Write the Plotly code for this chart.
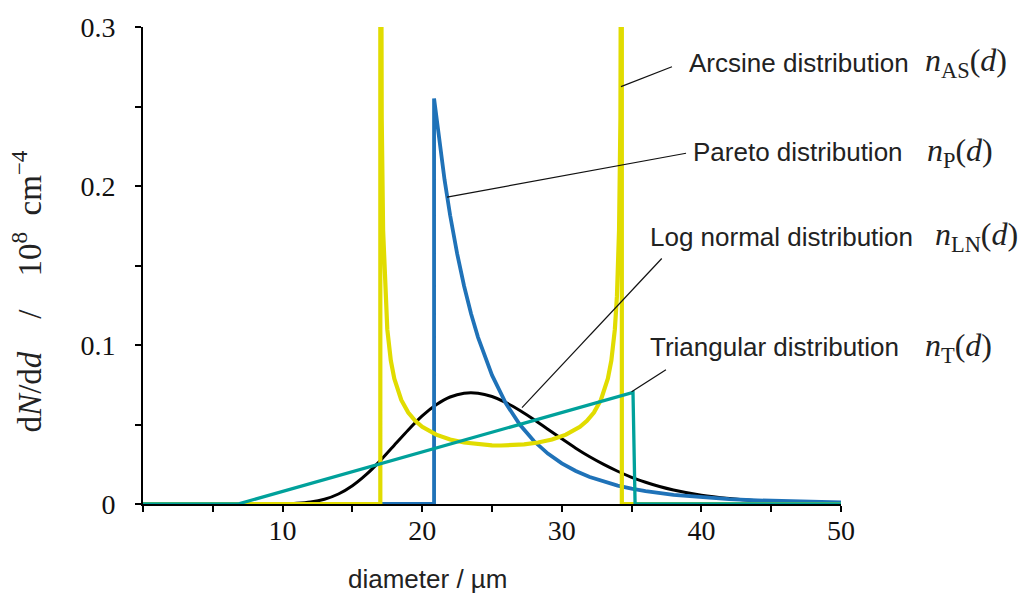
import plotly.graph_objects as go

# ---- data ----
tri_x = [0, 6.8, 35.1, 35.25, 50]
tri_y = [0, 0, 0.0702, 0, 0]

ln_x = [0, 8, 9, 10, 11, 12, 13, 14, 15, 16, 17, 18, 19, 20, 21, 22, 23, 24, 25,
        26, 27, 28, 29, 30, 31, 32, 33, 34, 35, 36, 37, 38, 40, 42, 44, 46, 48, 50]
ln_y = [0, 0, 0.00002, 0.0001, 0.0004, 0.0012, 0.0030, 0.0063, 0.0115, 0.0186, 0.0273,
        0.0370, 0.0466, 0.0554, 0.0624, 0.0673, 0.0697, 0.0697, 0.0676, 0.0638, 0.0588,
        0.0531, 0.0470, 0.0410, 0.0351, 0.0297, 0.0249, 0.0206, 0.0168, 0.0137, 0.0110,
        0.0088, 0.0055, 0.0034, 0.0020, 0.0012, 0.0007, 0.0004]

par_x = [0, 20.85, 20.85, 21.2, 21.6, 22, 22.5, 23, 23.5, 24, 25, 26, 27, 28, 29, 30,
         31, 32, 33, 34, 35, 36, 38, 40, 42, 44, 46, 48, 50]
par_y = [0, 0, 0.255, 0.2295, 0.2040, 0.1816, 0.1576, 0.1371, 0.1197, 0.1048, 0.0810,
         0.0632, 0.0498, 0.0396, 0.0317, 0.0256, 0.0208, 0.0170, 0.0140, 0.0116, 0.00965,
         0.00808, 0.00574, 0.00415, 0.00305, 0.00227, 0.00172, 0.00131, 0.00101]

as_x = [0, 17.0, 17.0, 17.02, 17.03, 17.06, 17.1, 17.2, 17.35, 17.5, 17.75, 18, 18.5, 19,
        19.5, 20, 21, 22, 23, 24, 25, 25.65, 26.3, 27.3, 28.3, 29.3, 30.3, 31.3, 31.8,
        32.3, 32.8, 33.3, 33.55, 33.8, 33.95, 34.1, 34.2, 34.24, 34.27, 34.28, 34.3, 34.3, 50]
as_y = [0, 0, 0.6, 0.541, 0.442, 0.313, 0.2427, 0.1721, 0.1307, 0.1098, 0.0903, 0.0789,
        0.0654, 0.0575, 0.0523, 0.0486, 0.0436, 0.0406, 0.0387, 0.0375, 0.0369, 0.0368,
        0.0369, 0.0375, 0.0387, 0.0406, 0.0436, 0.0486, 0.0523, 0.0575, 0.0654, 0.0789,
        0.0903, 0.1098, 0.1307, 0.1721, 0.2427, 0.313, 0.442, 0.541, 0.6, 0, 0]

x_ticks = [10, 20, 30, 40, 50]
x_tick_text = ["10", "20", "30", "40", "50"]
y_ticks = [0, 0.1, 0.2, 0.3]
y_tick_text = ["0", "0.1", "0.2", "0.3"]

labels = ["Arcsine distribution", "Pareto distribution",
          "Log normal distribution", "Triangular distribution"]
label_px = [0.7794, 0.7851, 0.7235, 0.7235]      # paper x (left edge)
label_py = [0.9250, 0.7375, 0.5605, 0.3290]      # paper y (middle)
math = ["<i>n</i><sub>AS</sub>(<i>d</i>)", "<i>n</i><sub>P</sub>(<i>d</i>)",
        "<i>n</i><sub>LN</sub>(<i>d</i>)", "<i>n</i><sub>T</sub>(<i>d</i>)"]
math_px = [1.1175, 1.1203, 1.1318, 1.1175]

# leader lines: (x0, y0) on curve -> (x1, y1) near label
lead_x0 = [34.24, 21.78, 27.15, 35.0]
lead_y0 = [0.2625, 0.193, 0.0606, 0.0706]
lead_x1 = [37.89, 38.9, 37.16, 37.46]
lead_y1 = [0.275, 0.2206, 0.1544, 0.0844]

BLACK = "#000000"
BLUE = "#1f72b8"
YELLOW = "#e1dc00"
TEAL = "#00a19b"
TXT = "#222222"

fig = go.Figure()
fig.add_trace(go.Scatter(x=ln_x, y=ln_y, mode="lines",
                         line=dict(color=BLACK, width=3, shape="spline", smoothing=0.6)))
fig.add_trace(go.Scatter(x=par_x, y=par_y, mode="lines", line=dict(color=BLUE, width=3.8)))
fig.add_trace(go.Scatter(x=as_x, y=as_y, mode="lines", line=dict(color=YELLOW, width=4.2)))
fig.add_trace(go.Scatter(x=tri_x, y=tri_y, mode="lines", line=dict(color=TEAL, width=3.3)))

for i in range(len(labels)):
    fig.add_annotation(x=label_px[i], y=label_py[i], xref="paper", yref="paper", text=labels[i],
                       showarrow=False, xanchor="left", yanchor="middle",
                       font=dict(family="Liberation Sans, Arial", size=26, color=TXT))
    fig.add_annotation(x=math_px[i], y=label_py[i], xref="paper", yref="paper", text=math[i],
                       showarrow=False, xanchor="left", yanchor="middle",
                       font=dict(family="Liberation Serif, Times New Roman", size=32, color=TXT))
    fig.add_shape(type="line", xref="x", yref="y", x0=lead_x0[i], y0=lead_y0[i],
                  x1=lead_x1[i], y1=lead_y1[i], line=dict(color="#111111", width=1.2))

fig.add_annotation(x=0.407, y=-0.158, xref="paper", yref="paper", text="diameter / µm",
                   showarrow=False, xanchor="center", yanchor="middle",
                   font=dict(family="Liberation Sans, Arial", size=26, color=TXT))
fig.add_annotation(x=-0.166, y=0.446, xref="paper", yref="paper",
                   text="d<i>N</i>/d<i>d</i>\u2003/\u200310<sup>8</sup>\u2002cm<sup>\u22124</sup>",
                   textangle=-90, showarrow=False, xanchor="center", yanchor="middle",
                   font=dict(family="Liberation Serif, Times New Roman", size=33, color=TXT))

fig.update_xaxes(range=[0, 50], tickvals=x_ticks, ticktext=x_tick_text, ticks="outside",
                 ticklen=6, tickwidth=2, tickcolor=BLACK, showline=True, linewidth=2,
                 linecolor=BLACK, showgrid=False, zeroline=False, ticklabelstandoff=-6,
                 minor=dict(dtick=5, tick0=0, ticks="outside", ticklen=6, tickwidth=2,
                            tickcolor=BLACK, showgrid=False),
                 tickfont=dict(family="Liberation Serif, Times New Roman", size=28, color="#111111"))
fig.update_yaxes(range=[0, 0.3], tickvals=y_ticks, ticktext=y_tick_text, ticks="outside",
                 ticklen=6, tickwidth=2, tickcolor=BLACK, showline=True, linewidth=2,
                 linecolor=BLACK, showgrid=False, zeroline=False, ticklabelstandoff=14,
                 minor=dict(dtick=0.05, tick0=0, ticks="outside", ticklen=6, tickwidth=2,
                            tickcolor=BLACK, showgrid=False),
                 tickfont=dict(family="Liberation Serif, Times New Roman", size=28, color="#111111"))

fig.update_layout(width=1026, height=596, margin=dict(l=143, r=185, t=24, b=92),
                  plot_bgcolor="white", paper_bgcolor="white", showlegend=False)

fig.write_html("out.html")
